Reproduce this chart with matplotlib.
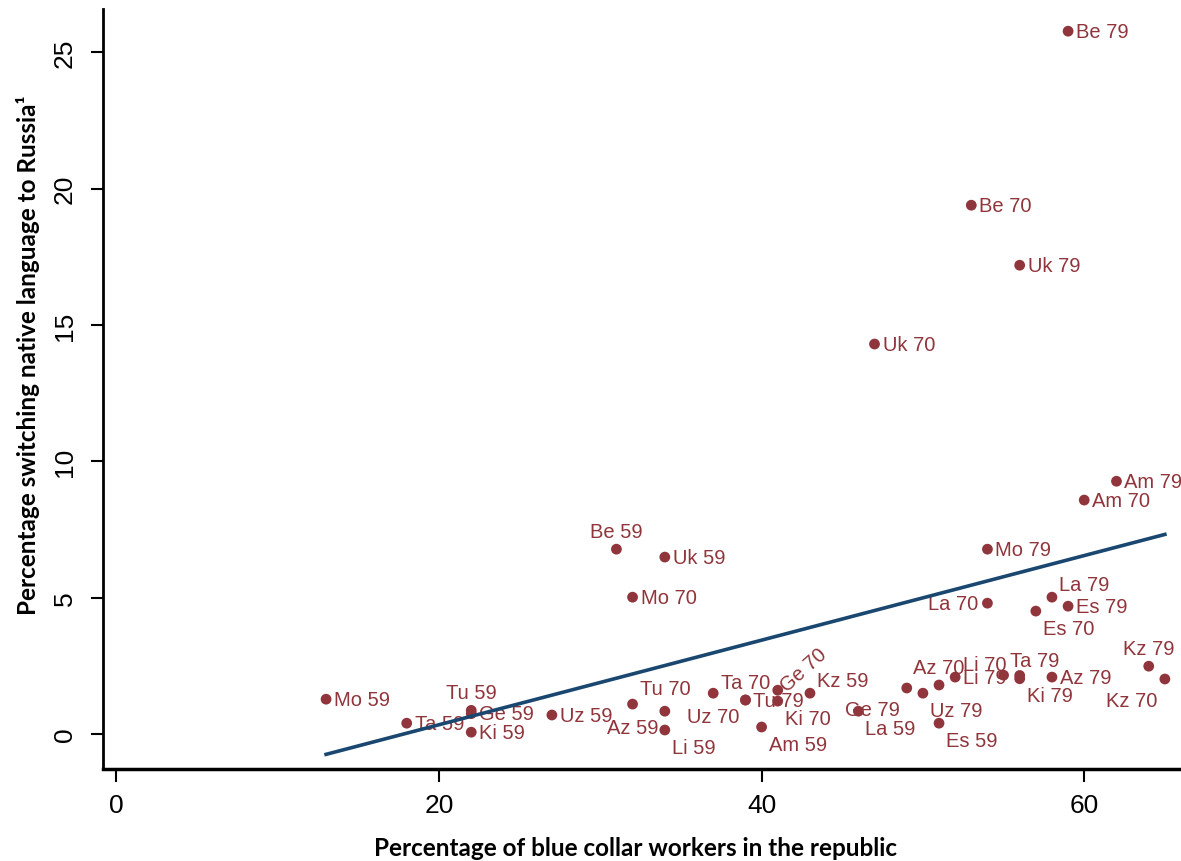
import numpy as np
import matplotlib
matplotlib.use('Agg')
import matplotlib.pyplot as plt

# republic-year labels, share of blue collar workers (x), % switching language (y)
labels = ['Mo 59', 'Ta 59', 'Tu 59', 'Ge 59', 'Ki 59', 'Uz 59', 'Az 59', 'Li 59',
          'Kz 59', 'Am 59', 'La 59', 'Es 59', 'Be 59', 'Uk 59',
          'Tu 70', 'Ta 70', 'Uz 70', 'Ge 70', 'Ki 70', 'Az 70', 'Li 70',
          'Kz 70', 'Es 70', 'La 70', 'Mo 70', 'Uk 70', 'Be 70', 'Am 70',
          'Tu 79', 'Ge 79', 'Uz 79', 'Li 79', 'Ta 79', 'Ki 79', 'Az 79',
          'Kz 79', 'Es 79', 'La 79', 'Mo 79', 'Uk 79', 'Be 79', 'Am 79']
blue_collar = [13, 18, 22, 22, 22, 27, 32, 34, 43, 40, 46, 51, 31, 34,
               34, 39, 37, 41, 41, 51, 55, 65, 57, 54, 32, 47, 53, 60,
               39, 49, 50, 52, 56, 56, 58, 64, 59, 58, 54, 56, 59, 62]
switching = [1.28, 0.40, 0.87, 0.75, 0.07, 0.70, 1.10, 0.15, 1.50, 0.26, 0.84, 0.40, 6.78, 6.49,
             0.84, 1.25, 1.50, 1.61, 1.21, 1.80, 2.16, 2.02, 4.51, 4.80, 5.02, 14.30, 19.39, 8.58,
             1.25, 1.69, 1.50, 2.09, 2.15, 2.03, 2.09, 2.49, 4.69, 5.02, 6.78, 17.19, 25.77, 9.27]

# marker label clock positions (Stata style)
label_pos = {
    'Mo 59': 3, 'Ta 59': 3, 'Tu 59': 12, 'Ge 59': 3, 'Ki 59': 3, 'Uz 59': 3, 'Az 59': 6,
    'Li 59': 4, 'Kz 59': 2, 'Am 59': 4, 'La 59': 4, 'Es 59': 4, 'Be 59': 12, 'Uk 59': 3,
    'Tu 70': 12, 'Ta 70': 12, 'Uz 70': 6, 'Ge 70': 'rot', 'Ki 70': 4, 'Az 70': 12, 'Li 70': 11,
    'Kz 70': 7, 'Es 70': 4, 'La 70': 9, 'Mo 70': 3, 'Uk 70': 3, 'Be 70': 3, 'Am 70': 3,
    'Tu 79': 3, 'Ge 79': 7, 'Uz 79': 4, 'Li 79': 3, 'Ta 79': 1, 'Ki 79': 4, 'Az 79': 3,
    'Kz 79': 12, 'Es 79': 3, 'La 79': 2, 'Mo 79': 3, 'Uk 79': 3, 'Be 79': 3, 'Am 79': 3,
}
# ha, dx, dy in pixels
clock = {
    3: ('left', 8, 0), 9: ('right', -9, 0), 12: ('center', 0, 18), 6: ('center', 0, -23),
    2: ('left', 7, 13), 4: ('left', 7, -17), 1: ('center', 15, 15), 11: ('center', -19, 11),
    7: ('right', -7, -21),
}

dot_col = '#90353b'
line_col = '#1a476f'
lab_font = ['Liberation Sans Narrow', 'Liberation Sans', 'DejaVu Sans']
title_font = ['Lato', 'DejaVu Sans']

fig = plt.figure(figsize=(11.81, 8.62), dpi=100)
ax = fig.add_axes([0.0872, 0.1067, 0.9128, 0.8816])

ax.scatter(blue_collar, switching, s=60, color=dot_col, edgecolors='none', zorder=4)

for lab, x, y in zip(labels, blue_collar, switching):
    p = label_pos[lab]
    if p == 'rot':
        ax.annotate(lab, (x, y), xytext=(6, 2), textcoords='offset pixels',
                    ha='left', va='center', rotation=42, rotation_mode='anchor',
                    fontsize=14.5, color=dot_col, family=lab_font, zorder=3)
        continue
    ha, dx, dy = clock[p]
    if lab == 'Tu 70':
        dy = 23
    ax.annotate(lab, (x, y), xytext=(dx, dy), textcoords='offset pixels',
                ha=ha, va='center', fontsize=14.5, color=dot_col, family=lab_font, zorder=3)

# linear fit
b, a = np.polyfit(blue_collar, switching, 1)
xs = np.array([min(blue_collar), max(blue_collar)])
ax.plot(xs, a + b * xs, color=line_col, lw=2.6, zorder=5)

ax.set_xlim(-0.83, 66.0)
ax.set_ylim(-1.28, 26.58)
ax.set_xticks([0, 20, 40, 60])
ax.set_yticks([0, 5, 10, 15, 20, 25])
for s in ['top', 'right']:
    ax.spines[s].set_visible(False)
ax.spines['left'].set_linewidth(2)
ax.spines['bottom'].set_linewidth(2.5)
ax.tick_params(axis='both', length=9, width=1.5, labelsize=19)
ax.tick_params(axis='x', pad=8)
ax.tick_params(axis='y', pad=10)
for t in ax.get_xticklabels() + ax.get_yticklabels():
    t.set_family(lab_font)
for t in ax.get_yticklabels():
    t.set_rotation(90)
    t.set_va('center')

fig.text(0.5377, 0.0162, 'Percentage of blue collar workers in the republic',
         ha='center', va='center', fontsize=17.5, fontweight='bold', family=title_font)
fig.text(0.024, 0.588, 'Percentage switching native language to Russia\u00b9',
         ha='center', va='center', rotation=90, fontsize=17.5, fontweight='bold',
         family=title_font)

fig.savefig('out.png', dpi=100)
